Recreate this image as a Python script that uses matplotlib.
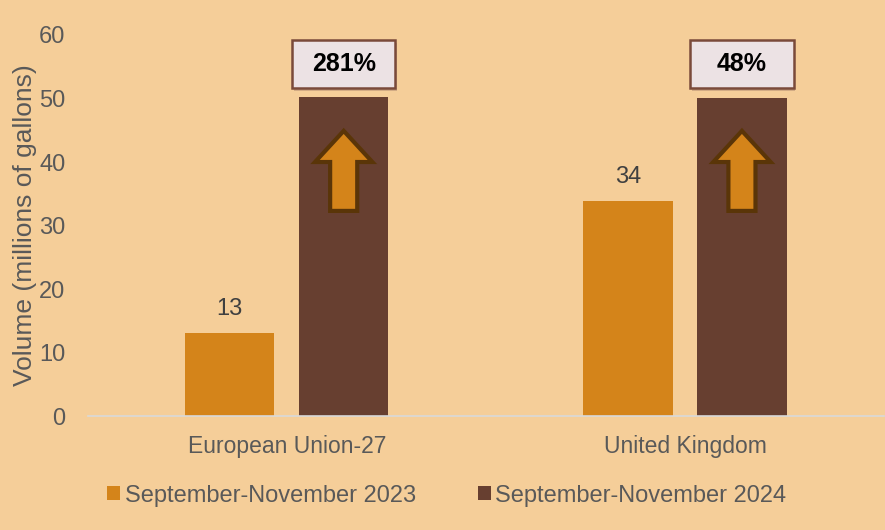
import numpy as np
import matplotlib.pyplot as plt
from matplotlib.patches import Polygon, Rectangle

plt.rcParams['font.family'] = ['Liberation Sans', 'DejaVu Sans']

categories = ['European Union-27', 'United Kingdom']
series_names = ['September-November 2023', 'September-November 2024']
vol_2023 = [13.1, 33.9]
vol_2024 = [50.2, 50.1]
labels_2023 = ['13', '34']
pct_change = ['281%', '48%']

bg = '#F5CE99'
orange = '#D4841A'
brown = '#673F30'
text_grey = '#595959'

fig = plt.figure(figsize=(8.85, 5.3), dpi=100, facecolor=bg)
ax = fig.add_axes([0.099, 0.215, 0.9, 0.719])
ax.set_facecolor(bg)

x = np.arange(len(categories))
w = 0.224
off = 0.143
b1 = ax.bar(x - off, vol_2023, w, color=orange, label=series_names[0])
b2 = ax.bar(x + off, vol_2024, w, color=brown, label=series_names[1])

for rect, lab in zip(b1, labels_2023):
    ax.annotate(lab, (rect.get_x() + rect.get_width() / 2, rect.get_height()),
                xytext=(0, 9), textcoords='offset points', ha='center', va='bottom',
                fontsize=17, color='#404040')

# up arrows inside the 2024 bars and percent boxes above them
for rect, pct in zip(b2, pct_change):
    cx = rect.get_x() + rect.get_width() / 2
    hw, sw = 0.072, 0.034
    y0, yh, y1 = 32.3, 40.0, 44.9
    pts = [(cx - sw, y0), (cx + sw, y0), (cx + sw, yh), (cx + hw, yh),
           (cx, y1), (cx - hw, yh), (cx - sw, yh)]
    ax.add_patch(Polygon(pts, closed=True, facecolor=orange, edgecolor='#5A3508',
                         linewidth=3, joinstyle='miter', zorder=3))
    bw, by0, bh = 0.26, 51.7, 7.5
    ax.add_patch(Rectangle((cx - bw / 2 + 0.004, by0 - 0.5), bw, bh, facecolor='#B08A70',
                           edgecolor='none', alpha=0.5, zorder=3))
    ax.add_patch(Rectangle((cx - bw / 2, by0), bw, bh, facecolor='#ECE2E4',
                           edgecolor='#7A4A3A', linewidth=1.8, zorder=4))
    ax.text(cx, by0 + bh / 2, pct, ha='center', va='center', fontsize=18,
            fontweight='bold', color='black', zorder=5)

ax.set_xlim(-0.5, 1.5)
ax.set_ylim(0, 60)
ax.set_yticks(np.arange(0, 61, 10))
ax.set_xticks(x)
ax.set_xticklabels(categories, fontsize=16.5)
ax.tick_params(axis='both', length=0, labelsize=17, labelcolor=text_grey)
ax.tick_params(axis='x', pad=14, labelsize=16.5)
ax.tick_params(axis='y', pad=16)
for s in ['top', 'right', 'left']:
    ax.spines[s].set_visible(False)
ax.spines['bottom'].set_color('#D9D9D9')
ax.spines['bottom'].set_linewidth(1.2)
ax.set_ylabel('Volume (millions of gallons)', fontsize=19, color=text_grey)
ax.yaxis.set_label_coords(-0.064, 0.5)

fig.legend(loc='lower center', bbox_to_anchor=(0.505, 0.004), ncol=2, frameon=False,
           fontsize=17, handlelength=0.55, handleheight=0.55, handletextpad=0.2,
           columnspacing=2.6, labelcolor=text_grey)

fig.savefig('out.png', dpi=100, facecolor=bg)
